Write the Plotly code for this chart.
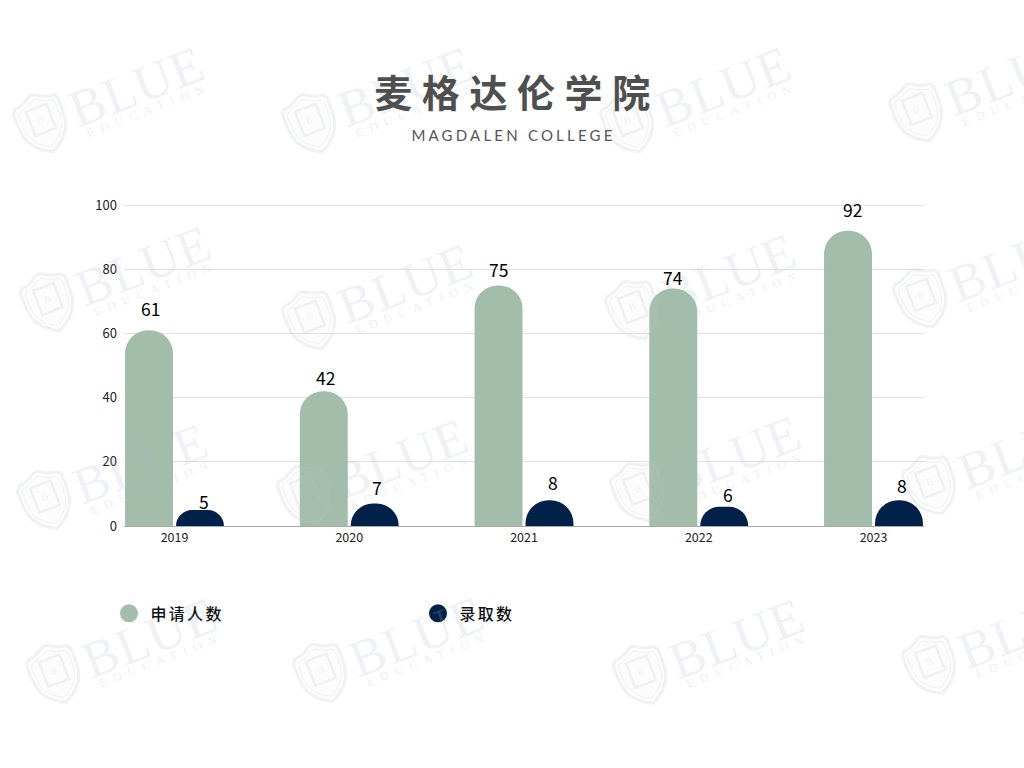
import math
import plotly.graph_objects as go

years = ["2019", "2020", "2021", "2022", "2023"]
applicants = [61, 42, 75, 74, 92]
admitted = [5, 7, 8, 6, 8]
series_names = ["申请人数", "录取数"]
y_ticks = [0, 20, 40, 60, 80, 100]
title_text = "麦格达伦学院"
subtitle_text = "MAGDALEN COLLEGE"

# label nudges (px), as placed by hand in the reference
app_label_dx = [1, 1, -1, -1, 4]
app_label_dy = [7, -1, 1, -3, 7]
adm_label_dx = [3, 2, 3, 3, 2]
adm_label_dy = [-6, 2, 3, -2, 0]

watermarks = [(42, 123), (311, 123), (629, 123), (918, 112),
              (49, 302), (311, 320), (634, 310), (922, 298),
              (46, 500), (306, 495), (639, 492), (931, 485),
              (55, 674), (322, 673), (642, 675), (931, 665)]

GREEN, NAVY = "#a2bdaa", "#012148"
PL, PR, PT, PB = 124, 924, 202.29, 526.5
FONT = "Noto Sans CJK SC"
ANG = 21.0


def px(x):
    return (x - PL) / (PR - PL)


def py(y):
    return (PB - y) / (PB - PT)


def local(cx, cy, x, y):
    t = math.radians(ANG)
    return cx + x * math.cos(t) + y * math.sin(t), cy - x * math.sin(t) + y * math.cos(t)


def path(cx, cy, pts, close=True):
    s = []
    for i, (x, y) in enumerate(pts):
        X, Y = local(cx, cy, x, y)
        s.append(f"{'M' if i == 0 else 'L'}{px(X):.5f},{py(Y):.5f}")
    return " ".join(s) + (" Z" if close else "")


SHIELD = [(-21, -22), (-15, -23), (-8, -26), (-3, -29), (0, -30), (3, -29), (8, -26), (15, -23),
          (21, -22), (24, -18), (24, -4), (23, 6), (20, 14), (14, 22), (6, 28), (0, 31),
          (-6, 28), (-14, 22), (-20, 14), (-23, 6), (-24, -4), (-24, -18)]


def scaled(pts, k):
    return [(x * k, y * k) for x, y in pts]


fig = go.Figure()
fig.add_bar(x=years, y=applicants, name=series_names[0], marker_color=GREEN, marker_line_width=0,
            showlegend=False, hoverinfo="skip")
fig.add_bar(x=years, y=admitted, name=series_names[1], marker_color=NAVY, marker_line_width=0,
            showlegend=False, hoverinfo="skip")
for nm, col in zip(series_names, [GREEN, NAVY]):
    fig.add_scatter(x=[None], y=[None], mode="markers", name=nm,
                    marker=dict(color=col, size=18, symbol="circle", line=dict(color=col, width=2)))

shapes, annos = [], []
line_wm = "rgba(185,200,190,0.20)"
for cx, cy in watermarks:
    shapes.append(dict(type="path", xref="paper", yref="paper", layer="above",
                       path=path(cx, cy, SHIELD), line=dict(color=line_wm, width=3),
                       fillcolor="rgba(200,212,204,0.06)"))
    shapes.append(dict(type="path", xref="paper", yref="paper", layer="above",
                       path=path(cx, cy, scaled(SHIELD, 0.82)), line=dict(color=line_wm, width=1)))
    shapes.append(dict(type="path", xref="paper", yref="paper", layer="above",
                       path=path(cx, cy, [(-11, -16), (11, -16), (11, 10), (-11, 10)]),
                       line=dict(color=line_wm, width=2.5)))
    X, Y = local(cx, cy, 0, -3)
    annos.append(dict(text="B", x=px(X), y=py(Y), xref="paper", yref="paper", showarrow=False,
                      xanchor="center", yanchor="middle", textangle=-ANG,
                      font=dict(family="Liberation Serif", size=10, color=line_wm)))
    annos.append(dict(text="BLUE", x=px(cx + 95), y=py(cy - 36), xref="paper", yref="paper",
                      xanchor="center", yanchor="middle", showarrow=False, textangle=-ANG,
                      font=dict(family="Liberation Serif", size=52, color="rgba(170,185,205,0.20)")))
    annos.append(dict(text="EDUCATION", x=px(cx + 106), y=py(cy - 13), xref="paper", yref="paper",
                      xanchor="center", yanchor="middle", showarrow=False, textangle=-ANG,
                      font=dict(family="Liberation Serif", size=12, color="rgba(170,185,205,0.26)")))

annos.append(dict(text=title_text, x=px(517), y=py(91), xref="paper", yref="paper", showarrow=False,
                  xanchor="center", yanchor="middle",
                  font=dict(family=FONT, size=38, color="#4f4f4f", weight="bold")))
annos.append(dict(text=subtitle_text, x=px(513), y=py(135), xref="paper", yref="paper", showarrow=False,
                  xanchor="center", yanchor="middle",
                  font=dict(family="Lato", size=15, color="#555555")))

for i, (a, b) in enumerate(zip(applicants, admitted)):
    annos.append(dict(text=str(a), x=i, y=a, xref="x", yref="y", showarrow=False, yanchor="bottom",
                      xshift=-25 + app_label_dx[i], yshift=app_label_dy[i],
                      font=dict(family=FONT, size=17.5, color="#000000")))
    annos.append(dict(text=str(b), x=i, y=b, xref="x", yref="y", showarrow=False, yanchor="bottom",
                      xshift=26 + adm_label_dx[i], yshift=adm_label_dy[i],
                      font=dict(family=FONT, size=17.5, color="#000000")))

fig.update_layout(
    width=1024, height=768, margin=dict(l=PL, r=1024 - PR, t=PT, b=768 - PB),
    paper_bgcolor="white", plot_bgcolor="white",
    barmode="group", bargap=0.417, bargroupgap=0.059, barcornerradius=24,
    font=dict(family=FONT, size=13, color="#222222"),
    shapes=shapes, annotations=annos,
    legend=dict(orientation="h", x=(107.5 - PL) / (PR - PL), y=py(614), yanchor="middle", xanchor="left",
                entrywidth=261, entrywidthmode="pixels", itemsizing="trace", itemwidth=33,
                font=dict(family=FONT, size=16, color="#111111", weight=500), bgcolor="rgba(0,0,0,0)"),
    xaxis=dict(type="category", range=[-0.289, 4.289], showgrid=False, showline=True,
               linecolor="#aaaaaa", linewidth=1, ticks="", tickfont=dict(size=12.5, color="#222222")),
    yaxis=dict(range=[0, 101], tickvals=y_ticks, gridcolor="#e2e2e2", gridwidth=1.3, showline=False,
               zeroline=False, ticks="", ticklabelstandoff=6, tickfont=dict(size=13, color="#222222")),
)

post = """
document.body.style.margin='0';document.body.style.overflow='hidden';
var sp={'麦格达伦学院':'9.6px','MAGDALEN COLLEGE':'3.2px','EDUCATION':'7px','BLUE':'1px'};
document.querySelectorAll('text').forEach(function(t){
  var v=sp[t.textContent]; if(v){t.style.letterSpacing=v;}
  if(t.classList.contains('legendtext')){t.style.letterSpacing='2.3px';}
});
"""
fig.write_html("out.html", post_script=post, config={"displayModeBar": False})
